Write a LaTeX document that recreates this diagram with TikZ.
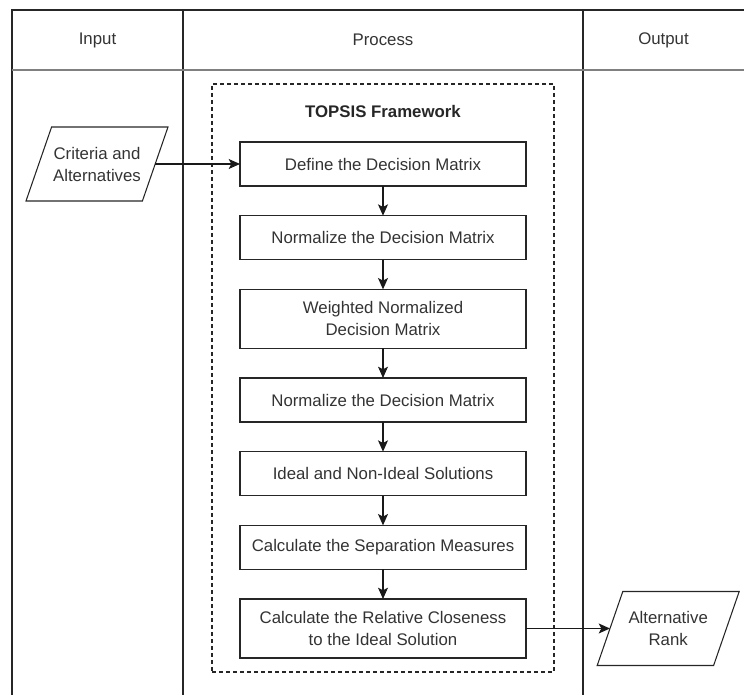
\documentclass[tikz,border=0pt]{standalone}
\usepackage{fontspec}
\setmainfont{Liberation Sans}
\usetikzlibrary{shapes.geometric, arrows.meta, positioning}

\begin{document}
\begin{tikzpicture}[x=0.75pt, y=0.75pt, node distance=22.25pt,
    font=\fontsize{12.6}{16.5}\selectfont,
    blk/.style={draw=black!85, line width=0.8pt, minimum width=214.5pt, minimum height=33pt,
        align=center, inner sep=2pt, outer sep=0pt, text=black!80},
    tall/.style={blk, minimum height=44.25pt},
    io/.style={draw=black!85, line width=0.8pt, trapezium, trapezium left angle=70,
        trapezium right angle=110, trapezium stretches body, minimum width=106.5pt,
        minimum height=55.5pt, align=center, inner xsep=1pt, inner ysep=13.5pt,
        outer sep=0pt, text=black!80},
    frame/.style={draw=black!85, line width=0.8pt, dash pattern=on 3pt off 2.25pt,
        minimum width=256.5pt, minimum height=441pt},
    arrow/.style={-{Stealth[length=8.5pt, width=7.5pt, inset=2pt]}, line width=0.8pt, black!90},
    grid/.style={line width=0.8pt, black!85},
    hdr/.style={line width=1.6pt, black!50}]
    \useasboundingbox (0,0) rectangle (744,-695);

    % table lines
    \draw[grid] (12,-695) -- (12,-10) -- (744,-10);
    \draw[grid] (183,-10) -- (183,-695);
    \draw[grid] (583,-10) -- (583,-695);
    \draw[hdr] (12,-70) -- (744,-70);
    \node[text=black!80] (input) at (97.5,-40) {Input};
    \node[text=black!80] (process) at (383,-40) {Process};
    \node[text=black!80] (output) at (663.5,-40) {Output};

    % TOPSIS steps
    \node[frame] (topsis) at (383,-378) {};
    \node[font=\fontsize{12.6}{16.5}\selectfont\bfseries, text=black!85] (title) at (383,-111) {TOPSIS Framework};
    \node[blk] (define) at (383,-164) {Define the Decision Matrix};
    \node[blk, below=of define] (norm1) {Normalize the Decision Matrix};
    \node[tall, below=of norm1] (weight) {Weighted Normalized\\Decision Matrix};
    \node[blk, below=of weight] (norm2) {Normalize the Decision Matrix};
    \node[blk, below=of norm2] (ideal) {Ideal and Non-Ideal Solutions};
    \node[blk, below=of ideal] (sep) {Calculate the Separation Measures};
    \node[tall, below=of sep] (close) {Calculate the Relative Closeness\\to the Ideal Solution};

    \foreach \a/\b in {define/norm1, norm1/weight, weight/norm2, norm2/ideal, ideal/sep, sep/close}
        \draw[arrow] (\a) -- (\b);

    % input and output
    \node[io] (crit) at (97,-164) {Criteria and\\Alternatives};
    \node[io, right=63pt of close, anchor=left side] (rank) {Alternative\\Rank};
    \draw[arrow] (crit.right side) -- (define.west);
    \draw[arrow] (close.east) -- (rank.left side);
\end{tikzpicture}
\end{document}
